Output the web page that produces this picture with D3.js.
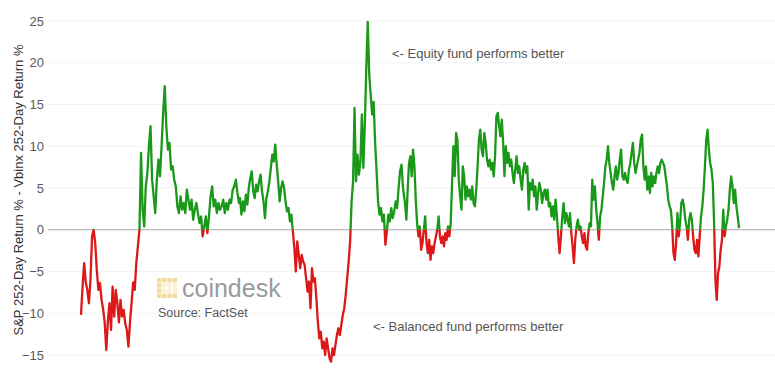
<!DOCTYPE html>
<html>
<head>
<meta charset="utf-8">
<script src="https://cdn.jsdelivr.net/npm/d3@7"></script>
<style>
  body { margin: 0; background: #fff; }
  svg { display: block; font-family: "Liberation Sans", Arial, sans-serif; }
</style>
</head>
<body>
<div id="chart"></div>
<script>
const width = 775;
const height = 374;

// y axis ticks
const yTicks = [-15, -10, -5, 0, 5, 10, 15, 20, 25];

const spreadA = [
  -10.2, -6.8, -4, -6.3, -7.2, -8.8, -6, -0.8, 0, -1.6,
  -4.8, -7.2, -6.4, -8.4, -9.5, -11.1, -14.4, -11, -8.8, -12,
  -6.8, -10.4, -7.2, -8.8, -11.1, -8.4, -10.4, -9.6, -11.2, -12,
  -14, -11.1, -8.8, -6.3, -7.2, -4, -2, 0, 9.2, 2.4,
  0.4, 5.2, 6.8, 10, 12.4, 6, 4, 2, 6, 8.4,
  6.4, 10, 14, 17.2, 12.4, 9.6, 10.4, 7.2, 7.6, 6,
  5.2, 2.8, 2, 4, 2.4, 3.2, 2, 4.8, 3.6, 2.4,
  3.6, 1.2, 2.4, 3.2, 2, 0.8, 1.6, -0.8, 0.4, 1.6,
  -0.4, 1.6, 4, 5.2, 2.8, 3.6, 2, 3.2, 2.4, 2.8,
  3.6, 2, 3.2, 2.4, 3.6, 3.2, 4.8, 5.2, 6, 4.4,
  3.2
];
const spreadB = [
  3.8, 1.8, 3.4, 2.2, 4.2, 3, 5, 6.2, 7, 4.6,
  3.8, 5.4, 4.6, 5.8, 6.6, 4.6, 3.4, 1.4, 3.8, 4.6,
  5.8, 7.4, 9, 8.2, 10.2, 7.8, 5.8, 3.4, 5, 5.8,
  5, 3.4, 2.2, 2.6, 1, 1.8, -0.2, -2.1, -5, -1.4,
  -3, -4.6, -3, -3.8, -4.2, -5.8, -7.4, -6.2, -9.4, -4.6,
  -6.2, -5.8, -8.2, -11, -13, -12.2, -14.2, -13.4, -15, -13,
  -14.2, -15.4, -15.8, -14.2, -15, -13.8, -12.6, -11.8, -12.6, -11.4,
  -10.2, -9.4, -7.8, -5.8, -3.8, -1.4, 3.4, 5.8, 14.6, 5.8,
  9, 6.6, 8.2, 13.8, 7.4, 12.6, 19.4, 24.9, 18.6, 16.2,
  13.8, 15.3, 10.5, 7, 3.4, 1.8, 2.6, 1, 1.8, -1.8,
  -0.2, 1.8, 1, 2.6, 1.4, 2.2, 3.4, 2.6, 5, 7,
  7.8, 5
];
const spreadC = [
  3.2, 1.2, 4.8, 8, 8.8, 6.4, 9.6, 7.6, 3.6, 0.8,
  -0.8, 0.4, -2.4, -1.6, 0, 1.6, -1.6, -2.8, -1.2, -3.6,
  -2, -2.8, -1.6, -0.8, 0, 1.6, -0.8, -1.6, -0.8, -2,
  -0.4, -1.2, 0.4, -0.8, 0.8, 5.6, 10, 6.4, 11.6, 10.8,
  6, 4, 2.4, 7.6, 6.4, 3.6, 5.2, 4, 4.8, 3.6,
  5.2, 3.2, 2.8, 4.8, 7.6, 10.8, 12, 9.6, 8.8, 11.6,
  10.4, 8.4, 7.6, 8.4, 7.2, 8, 6.4, 8.8, 13.6, 14,
  12.4, 11.2, 13.2, 10.4, 6.4, 10, 8, 9.2, 7.6, 8.4,
  6.8, 5.6, 7.2, 8.8, 6.8, 7.6, 6, 4.8, 7.2, 8,
  6.8, 7.6, 2.4, 5.6, 4.8, 6, 4, 5.2, 2.4, 4.4,
  5.6, 4.8, 3.2, 4.4, 4.8, 3.6, 4.8, 2.8, 3.2, 1.6,
  2.8, 1.2, 3.6, 1.6, -0.8, -2.8, -0.8, 1.6, 3.2, 0.8,
  2, 1.2, 0.4
];
const spreadD = [
  2, -0.4, -2, -4, -1.2, 0.4, 1.2, 0, 0.4, -0.8,
  -1.6, -0.4, -2, -2.4, -0.4, 0.8, 0.4, 6, 3.6, 5.2,
  2.4, 0.8, -1.2, 1.6, 2.4, 4, 5.6, 7.6, 8.4, 10,
  8, 6.8, 5.6, 4.8, 6.4, 7.6, 6, 6.8, 8.4, 9.6,
  6.4, 6, 6.8, 6, 5.6, 7.2, 8, 9.2, 10.4, 8,
  6.8, 7.6, 8.4, 9.2, 10.8, 11.4, 7.6, 6, 7.6, 4.8,
  6.4, 4.4, 6.8, 5.2, 6.4, 5.6, 6.8, 7.6, 6.8, 8,
  8.4, 8, 7.6, 6.4, 5.2, 3.6, 2.8, 2.4, 0.4, -2.8,
  -3.6, -1.6, 2, -0.8, 0.8, 3.2, 3.6, 2.8, 1.2, 0.4,
  -1.2, 1.2, 2, 1.2, -0.8, -2.4, -2.8, -1.2, -3.2, -0.8,
  1.6, 2.8, 4.8, 7.6, 10.8, 12, 9.6, 8, 7.2, 5.6,
  0.8, -6, -8.4, -5.2, -4.4, -2.4, -1.2, 2.4, -0.8, 0.4,
  1.2, 2.4, 4.8, 6.4, 5.2, 3.2, 4.8, 2.8, 1.6, 0.2
];
// first / last trading day covered by each stretch
const stretchStart = [0, 1113, 2268, 3423];
const stretchEnd = [1106, 2254, 3416, 4606];

const stretches = [spreadA, spreadB, spreadC, spreadD];
const points = [];
stretches.forEach((vals, s) => {
  const step = (stretchEnd[s] - stretchStart[s]) / (vals.length - 1);
  vals.forEach((v, i) => points.push({ day: stretchStart[s] + i * step, value: v }));
});

const x = d3.scaleLinear()
  .domain([0, d3.max(stretchEnd)])
  .range([81, 739]);

const y = d3.scaleLinear()
  .domain([-15, 25])
  .range([355, 21]);

const svg = d3.select('#chart')
  .append('svg')
  .attr('width', width)
  .attr('height', height);

svg.append('rect')
  .attr('width', width)
  .attr('height', height)
  .attr('fill', '#fff');

// faint gridlines
svg.append('g')
  .selectAll('line')
  .data(yTicks.filter((t) => t !== 0))
  .enter()
  .append('line')
  .attr('x1', 48)
  .attr('x2', width)
  .attr('y1', (d) => y(d))
  .attr('y2', (d) => y(d))
  .attr('stroke', '#f3f3f3')
  .attr('stroke-width', 1);

// y axis labels
const yAxis = svg.append('g')
  .attr('transform', 'translate(48,0)')
  .call(d3.axisLeft(y).tickValues(yTicks).tickSize(0).tickPadding(4));
yAxis.select('.domain').remove();
yAxis.selectAll('text')
  .attr('fill', '#5a5a5a')
  .style('font-size', '13px')
  .style('font-family', '"Liberation Sans", Arial, sans-serif');

// zero line
svg.append('line')
  .attr('x1', 48)
  .attr('x2', width)
  .attr('y1', y(0))
  .attr('y2', y(0))
  .attr('stroke', '#a8a8a8')
  .attr('stroke-width', 1);

// axis title
svg.append('text')
  .attr('transform', `translate(23,${(y(25) + y(-15)) / 2 + 2}) rotate(-90)`)
  .attr('text-anchor', 'middle')
  .attr('fill', '#333')
  .style('font-size', '13px')
  .text('S&P 252-Day Return % - Vbinx 252-Day Return %');

// clip regions above / below zero
const defs = svg.append('defs');
defs.append('clipPath').attr('id', 'above')
  .append('rect')
  .attr('x', 0).attr('y', 0)
  .attr('width', width).attr('height', y(0));
defs.append('clipPath').attr('id', 'below')
  .append('rect')
  .attr('x', 0).attr('y', y(0))
  .attr('width', width).attr('height', height - y(0));

const line = d3.line()
  .x((d) => x(d.day))
  .y((d) => y(d.value));

svg.append('path')
  .datum(points)
  .attr('d', line)
  .attr('fill', 'none')
  .attr('stroke', '#1a981a')
  .attr('stroke-width', 2.3)
  .attr('stroke-linejoin', 'round')
  .attr('clip-path', 'url(#above)');

svg.append('path')
  .datum(points)
  .attr('d', line)
  .attr('fill', 'none')
  .attr('stroke', '#dc1818')
  .attr('stroke-width', 2.3)
  .attr('stroke-linejoin', 'round')
  .attr('clip-path', 'url(#below)');

// annotations
svg.append('text')
  .attr('x', 392)
  .attr('y', 58)
  .attr('fill', '#555')
  .style('font-size', '13px')
  .text('<- Equity fund performs better');

svg.append('text')
  .attr('x', 373)
  .attr('y', 331)
  .attr('fill', '#555')
  .style('font-size', '13px')
  .text('<- Balanced fund performs better');

// coindesk watermark
const logo = svg.append('g').attr('transform', 'translate(157,278)');
const cells = [];
for (let r = 0; r < 4; r++) {
  for (let c = 0; c < 4; c++) {
    const edge = c === 0 || r === 0 || r === 3;
    cells.push({ r, c, edge });
  }
}
logo.selectAll('rect')
  .data(cells)
  .enter()
  .append('rect')
  .attr('x', (d) => d.c * 5.2)
  .attr('y', (d) => d.r * 5.2)
  .attr('width', 4.4)
  .attr('height', 4.4)
  .attr('fill', (d) => (d.edge ? '#f2dc9c' : '#faf0d2'));

svg.append('text')
  .attr('x', 182)
  .attr('y', 297)
  .attr('fill', '#9a9a9a')
  .style('font-size', '25px')
  .text('coindesk');

svg.append('text')
  .attr('x', 158)
  .attr('y', 317)
  .attr('fill', '#555')
  .style('font-size', '12.5px')
  .text('Source: FactSet');
</script>
</body>
</html>
